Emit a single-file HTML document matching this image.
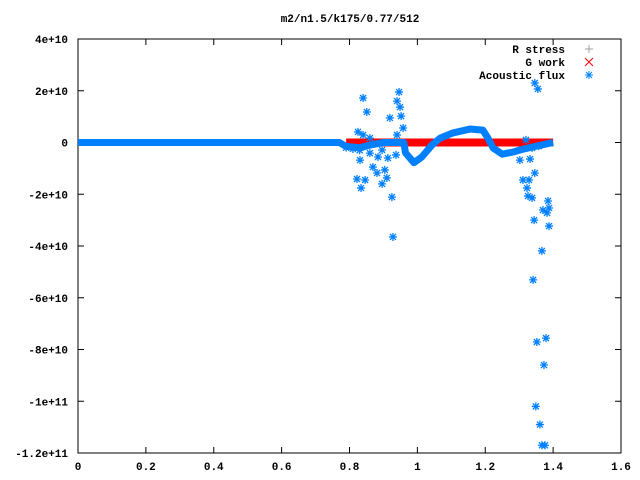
<!DOCTYPE html>
<html><head><meta charset="utf-8"><style>
body{margin:0;background:#fff}
svg{display:block;font-family:"Liberation Mono",monospace;font-size:11px;font-weight:bold}
</style></head><body>
<svg id="c" width="640" height="480">
<text x="350" y="22" text-anchor="middle">m2/n1.5/k175/0.77/512</text>
<g id="axes"></g><g id="plot"></g>
<g>
<text x="565" y="53" text-anchor="end">R stress</text>
<text x="565" y="66" text-anchor="end">G work</text>
<text x="565" y="79" text-anchor="end">Acoustic flux</text>
<path d="M585,49h8M589,45v8" stroke="#a0a0a0"/>
<path d="M585,58l8,8M593,58l-8,8" stroke="#f00"/>
<path d="M585,75h8M589,71v8M586,72l6,6M592,72l-6,6" stroke="#0080ff"/>
</g>
</svg>
<script>
const xTicks=[0,0.2,0.4,0.6,0.8,1,1.2,1.4,1.6];
const xTickLabels=["0","0.2","0.4","0.6","0.8","1","1.2","1.4","1.6"];
const yTicks=[4,2,0,-2,-4,-6,-8,-10,-12];
const yTickLabels=["4e+10","2e+10","0","-2e+10","-4e+10","-6e+10","-8e+10","-1e+11","-1.2e+11"];
const curveX=[0,0.77,0.79,0.83,0.86,0.9,0.96,0.965,0.99,1.013,1.043,1.067,1.105,1.155,1.193,1.208,1.223,1.25,1.282,1.302,1.33,1.4];
const curveY=[0,0,-0.15,-0.2,-0.1,0,0,-0.4,-0.78,-0.56,-0.1,0.17,0.37,0.52,0.48,0.17,-0.21,-0.45,-0.37,-0.29,-0.2,0];
const gworkX=[0.79,1.4];
const gworkY=[0,0];
const fluxX=[0.84,0.851,0.946,0.94,0.949,0.952,0.919,0.958,0.94,0.825,0.84,0.86,0.822,0.834,0.846,0.896,0.91,0.869,0.881,0.925,0.928,0.831,0.86,0.896,0.913,0.937,0.884,0.904,0.79,0.81,0.83,
1.32,1.332,1.302,1.346,1.311,1.329,1.323,1.326,1.338,1.385,1.37,1.388,1.382,1.344,1.388,1.367,1.346,1.355,1.358,1.338,1.341,1.352,1.379,1.373,1.349,1.361,1.367,1.376];
const fluxY=[1.72,1.18,1.95,1.6,1.37,1.02,0.95,0.56,0.29,0.41,0.29,0.17,-1.41,-1.76,-1.45,-1.6,-1.37,-0.95,-1.18,-2.11,-3.65,-0.68,-0.41,-0.29,-0.6,-0.48,-0.56,-1.06,-0.2,-0.25,-0.3,
0.1,-0.64,-0.68,-1.18,-1.45,-1.45,-1.76,-2.07,-2.14,-2.26,-2.61,-2.53,-2.72,-3.0,-3.23,-4.19,2.3,2.07,-0.14,-0.21,-5.31,-7.71,-7.56,-8.6,-10.2,-10.9,-11.7,-11.7];
const L=78,R=621,T=39,B=453;
const sx=v=>L+(v-0)/1.6*(R-L);
const sy=v=>T+(4-v)/16*(B-T);
const NS="http://www.w3.org/2000/svg";
const ax=document.getElementById('axes'),pl=document.getElementById('plot');
function mk(tag,at,parent){const e=document.createElementNS(NS,tag);for(const k in at)e.setAttribute(k,at[k]);parent.appendChild(e);return e;}
const fr=mk('rect',{x:L,y:T,width:R-L,height:B-T,fill:'none',stroke:'#000'},ax);


xTicks.forEach((v,i)=>{const x=sx(v);
 mk('path',{d:`M${x},${B}v-6M${x},${T}v6`,stroke:'#000'},ax);
 const t=mk('text',{x:x,y:470,'text-anchor':'middle'},ax);t.textContent=xTickLabels[i];
 
 });
yTicks.forEach((v,i)=>{const y=sy(v);
 mk('path',{d:`M${L},${y}h6M${R},${y}h-6`,stroke:'#000'},ax);
 const t=mk('text',{x:68,y:y+4,'text-anchor':'end'},ax);t.textContent=yTickLabels[i];
 
 });
const gw=mk('polyline',{points:gworkX.map((x,i)=>sx(x)+','+sy(gworkY[i])).join(' '),stroke:'#f00','stroke-width':8,fill:'none'},pl);


const cv=mk('polyline',{points:curveX.map((x,i)=>sx(x)+','+sy(curveY[i])).join(' '),stroke:'#0080ff','stroke-width':7,fill:'none','stroke-linejoin':'round'},pl);


fluxX.forEach((xv,i)=>{const x=sx(xv),y=sy(fluxY[i]);
 const p=mk('path',{d:`M${x-4},${y}h8M${x},${y-4}v8M${x-3},${y-3}l6,6M${x+3},${y-3}l-6,6`,stroke:'#0080ff','stroke-width':1.3},pl);
 
 });
</script>
</body></html>
